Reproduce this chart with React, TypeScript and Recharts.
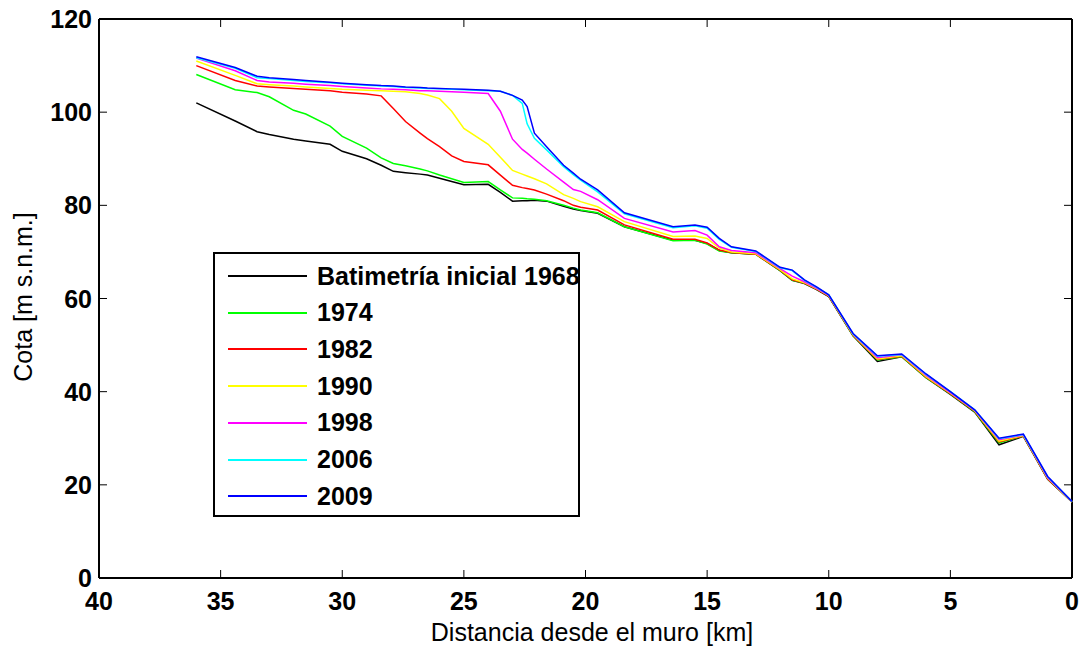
import React from 'react'
import { LineChart, Line, XAxis, YAxis, ReferenceLine } from 'recharts'

// distance from the dam [km]
const kms = [
  36, 34.4, 33.5, 33, 32, 31.5, 30.5, 30, 29, 28.4, 27.9, 27.4, 26.8, 26.5, 26, 25.5, 25, 24, 23.5, 23,
  22.6, 22.4, 22.1, 21.6, 20.9, 20.5, 20.2, 19.5, 18.4, 16.4, 15.5, 15, 14.5, 14, 13, 12, 11.5, 11, 10.5, 10,
  9, 8, 7, 6, 5, 4, 3, 2, 1, 0,
]

const cota1968 = [
  102.0, 98.1, 95.8, 95.2, 94.2, 93.8, 93.1, 91.6, 90.0, 88.6, 87.3, 87.0, 86.7, 86.5, 85.8, 85.1, 84.4, 84.5, 82.8, 80.9,
  81.0, 81.0, 81.1, 80.9, 79.8, 79.2, 78.9, 78.3, 75.4, 72.5, 72.5, 71.8, 70.3, 69.8, 69.5, 66.0, 63.9, 63.2, 61.9, 60.4,
  52.0, 46.5, 47.5, 43.0, 39.4, 35.6, 28.6, 30.4, 21.2, 16.3,
]
const cota1974 = [
  108.1, 104.8, 104.2, 103.3, 100.4, 99.6, 97.0, 94.8, 92.3, 90.2, 89.0, 88.5, 87.8, 87.4, 86.5, 85.7, 84.9, 85.1, 83.3, 81.6,
  81.5, 81.4, 81.3, 81.0, 80.0, 79.4, 79.0, 78.4, 75.4, 72.4, 72.5, 71.7, 70.2, 69.8, 69.5, 66.0, 63.9, 63.3, 62.0, 60.5,
  52.0, 46.8, 47.5, 43.0, 39.5, 35.7, 29.0, 30.5, 21.3, 16.3,
]
const cota1982 = [
  110.0, 106.8, 105.6, 105.4, 105.1, 104.9, 104.6, 104.3, 103.9, 103.5, 100.8, 98.0, 95.5, 94.3, 92.6, 90.6, 89.4, 88.7, 86.5, 84.3,
  83.8, 83.6, 83.3, 82.4, 81.0, 80.0, 79.6, 79.0, 75.8, 72.7, 72.7, 71.9, 70.4, 69.9, 69.5, 66.1, 64.0, 63.3, 62.0, 60.5,
  52.1, 46.9, 47.6, 43.1, 39.6, 35.8, 29.2, 30.5, 21.3, 16.3,
]
const cota1990 = [
  111.0, 107.9, 106.1, 105.9, 105.6, 105.4, 105.1, 104.9, 104.7, 104.6, 104.5, 104.4, 104.0, 103.7, 102.9, 100.2, 96.5, 93.1, 90.3, 87.5,
  86.7, 86.3, 85.7, 84.6, 82.3, 81.5, 80.8, 79.7, 76.5, 73.3, 73.4, 72.9, 70.8, 70.0, 69.6, 66.2, 64.2, 63.4, 62.1, 60.6,
  52.2, 47.0, 47.7, 43.2, 39.7, 35.9, 29.4, 30.6, 21.4, 16.3,
]
const cota1998 = [
  111.6, 108.9, 106.8, 106.5, 106.2, 106.0, 105.7, 105.5, 105.2, 105.0, 104.9, 104.8, 104.6, 104.6, 104.5, 104.4, 104.3, 104.0, 100.2, 94.2,
  92.0, 91.2, 89.9, 87.8, 85.0, 83.4, 83.0, 81.2, 77.2, 74.3, 74.6, 73.6, 71.1, 70.3, 69.8, 66.4, 64.8, 63.6, 62.2, 60.7,
  52.3, 47.3, 47.9, 43.5, 39.8, 36.0, 29.7, 30.7, 21.5, 16.4,
]
const cota2006 = [
  111.7, 109.4, 107.4, 107.2, 106.8, 106.6, 106.3, 106.1, 105.8, 105.6, 105.5, 105.3, 105.2, 105.1, 105.0, 104.9, 104.8, 104.6, 104.5, 103.6,
  101.9, 97.5, 94.4, 91.9, 88.3, 86.6, 85.4, 82.9, 78.2, 75.2, 75.6, 75.1, 72.7, 71.0, 70.1, 66.6, 66.0, 63.9, 62.4, 60.8,
  52.4, 47.6, 48.0, 43.7, 40.0, 36.1, 29.9, 30.8, 21.7, 16.4,
]
const cota2009 = [
  111.9, 109.6, 107.7, 107.4, 107.0, 106.8, 106.4, 106.2, 105.9, 105.7, 105.6, 105.4, 105.3, 105.2, 105.1, 105.0, 104.9, 104.7, 104.5, 103.6,
  102.6, 101.2, 95.5, 92.6, 88.6, 86.9, 85.6, 83.3, 78.4, 75.4, 75.8, 75.3, 72.9, 71.1, 70.2, 66.7, 66.1, 64.0, 62.5, 60.8,
  52.5, 47.7, 48.1, 43.8, 40.0, 36.1, 30.0, 30.9, 21.8, 16.4,
]

const xTicks = [0, 5, 10, 15, 20, 25, 30, 35, 40]
const yTicks = [0, 20, 40, 60, 80, 100, 120]

const series = [
  { key: 'c1968', name: 'Batimetría inicial 1968', color: '#000000', values: cota1968 },
  { key: 'c1974', name: '1974', color: '#00ff00', values: cota1974 },
  { key: 'c1982', name: '1982', color: '#ff0000', values: cota1982 },
  { key: 'c1990', name: '1990', color: '#ffff00', values: cota1990 },
  { key: 'c1998', name: '1998', color: '#ff00ff', values: cota1998 },
  { key: 'c2006', name: '2006', color: '#00ffff', values: cota2006 },
  { key: 'c2009', name: '2009', color: '#0000ff', values: cota2009 },
]

const data = kms.map((km, i) => {
  const row: Record<string, number> = { km }
  series.forEach((s) => {
    row[s.key] = s.values[i]
  })
  return row
})

const W = 1084
const H = 648
const PLOT_LEFT = 99
const PLOT_RIGHT = 1072
const PLOT_TOP = 19
const PLOT_BOTTOM = 578
const TICK = 8
const FONT = 'Liberation Sans, Arial, sans-serif'

function XTick(props: any) {
  const { x, payload } = props
  return (
    <g>
      <line x1={x} x2={x} y1={PLOT_BOTTOM} y2={PLOT_BOTTOM - TICK} stroke="#000" strokeWidth={1} />
      <line x1={x} x2={x} y1={PLOT_TOP} y2={PLOT_TOP + TICK} stroke="#000" strokeWidth={1} />
      <text x={x} y={PLOT_BOTTOM + 32} textAnchor="middle" fontSize={25} fontWeight="bold" fontFamily={FONT} fill="#000">
        {payload.value}
      </text>
    </g>
  )
}

function YTick(props: any) {
  const { y, payload } = props
  return (
    <g>
      <line x1={PLOT_LEFT} x2={PLOT_LEFT + TICK} y1={y} y2={y} stroke="#000" strokeWidth={1} />
      <line x1={PLOT_RIGHT} x2={PLOT_RIGHT - TICK} y1={y} y2={y} stroke="#000" strokeWidth={1} />
      <text x={PLOT_LEFT - 7} y={y + 9} textAnchor="end" fontSize={25} fontWeight="bold" fontFamily={FONT} fill="#000">
        {payload.value}
      </text>
    </g>
  )
}

function LegendBox() {
  return (
    <div
      style={{
        position: 'absolute',
        left: 213,
        top: 252,
        width: 363,
        height: 261,
        border: '2px solid #000',
        background: '#fff',
        fontFamily: FONT,
        fontWeight: 'bold',
        fontSize: 25,
      }}
    >
      {series.map((s, i) => (
        <div
          key={s.key}
          style={{ position: 'absolute', left: 0, top: 7 + i * 36.7, height: 30, display: 'flex', alignItems: 'center' }}
        >
          <div style={{ marginLeft: 13, width: 79, height: 2, background: s.color }} />
          <span style={{ marginLeft: 10, whiteSpace: 'nowrap', color: '#000' }}>{s.name}</span>
        </div>
      ))}
    </div>
  )
}

export default function App() {
  return (
    <div style={{ position: 'absolute', left: 0, top: 0, width: W, height: H, background: '#fff' }}>
      <LineChart width={W} height={H} data={data} margin={{ top: PLOT_TOP, right: W - PLOT_RIGHT, bottom: 0, left: 0 }}>
        <XAxis
          dataKey="km"
          type="number"
          domain={[0, 40]}
          ticks={xTicks}
          reversed
          height={H - PLOT_BOTTOM}
          axisLine={{ stroke: '#000', strokeWidth: 2 }}
          tickLine={false}
          tick={<XTick />}
          interval={0}
        />
        <YAxis
          type="number"
          domain={[0, 120]}
          ticks={yTicks}
          width={PLOT_LEFT}
          axisLine={{ stroke: '#000', strokeWidth: 2 }}
          tickLine={false}
          tick={<YTick />}
          interval={0}
        />
        <ReferenceLine y={120} stroke="#000" strokeWidth={2} />
        <ReferenceLine x={0} stroke="#000" strokeWidth={2} />
        {series.map((s) => (
          <Line
            key={s.key}
            type="linear"
            dataKey={s.key}
            name={s.name}
            stroke={s.color}
            strokeWidth={1.5}
            dot={false}
            isAnimationActive={false}
          />
        ))}
        <text x={592} y={641} textAnchor="middle" fontSize={25} fontFamily={FONT} fill="#000">
          Distancia desde el muro [km]
        </text>
        <text
          x={0}
          y={0}
          transform="translate(32, 297) rotate(-90)"
          textAnchor="middle"
          fontSize={25}
          fontFamily={FONT}
          fill="#000"
        >
          Cota [m s.n.m.]
        </text>
      </LineChart>
      <LegendBox />
    </div>
  )
}
